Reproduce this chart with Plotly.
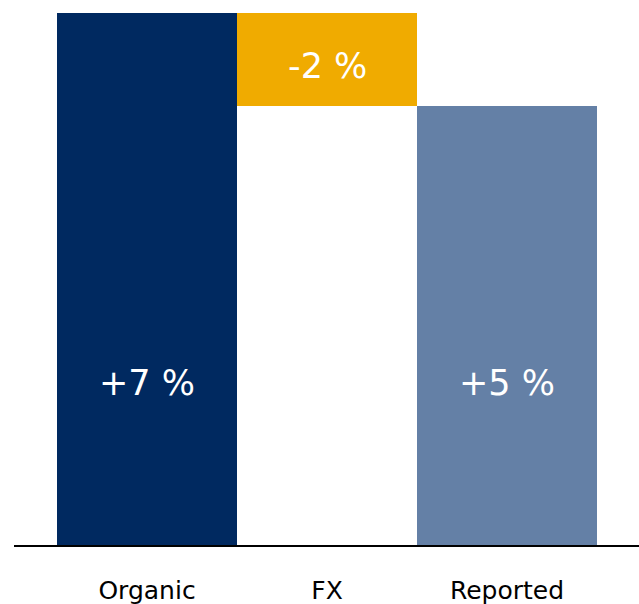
import plotly.graph_objects as go

categories = ["Organic", "FX", "Reported"]
values = [7.0, -1.224, 5.776]
bases = [0.0, 7.0, 0.0]
labels = ["+7 %", "-2 %", "+5 %"]
label_y = [2.13, 6.30, 2.13]
colors = ["#002960", "#F0AB00", "#6480A6"]

x = list(range(len(categories)))
heights = [abs(v) for v in values]
base_vals = [b if v >= 0 else b + v for b, v in zip(bases, values)]

FONT = "DejaVu Sans, sans-serif"

fig = go.Figure()
fig.add_trace(go.Bar(x=x, y=heights, base=base_vals, marker=dict(color=colors, line=dict(width=0)),
                     width=1.0, hoverinfo="skip"))

for xi, t, yy in zip(x, labels, label_y):
    fig.add_annotation(x=xi, y=yy, text=t, showarrow=False,
                       font=dict(family=FONT, size=35, color="white"))

fig.update_layout(
    width=639, height=604,
    margin=dict(l=14, r=0, t=13, b=59),
    plot_bgcolor="white", paper_bgcolor="white",
    bargap=0, showlegend=False,
    xaxis=dict(range=[-0.739, 2.733], tickvals=x, ticktext=categories, showgrid=False, zeroline=False,
               showline=True, linecolor="black", linewidth=2, ticks="", ticklabelstandoff=22,
               tickfont=dict(family=FONT, size=25, color="black")),
    yaxis=dict(range=[0, 7], visible=False, showgrid=False, zeroline=False),
)
fig.write_html("out.html")
